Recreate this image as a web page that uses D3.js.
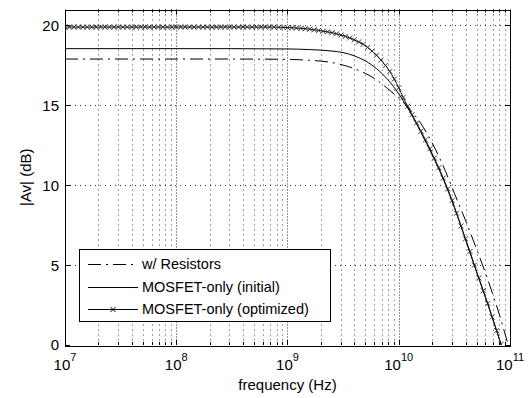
<!DOCTYPE html>
<html>
<head>
<meta charset="utf-8">
<script src="https://cdn.jsdelivr.net/npm/d3@7"></script>
<style>
  html, body { margin: 0; padding: 0; background: #fff; }
  svg { display: block; }
  text { font-family: "Liberation Sans", Arial, Helvetica, sans-serif; fill: #000; }
</style>
</head>
<body>
<svg id="chart" width="530" height="398"></svg>
<script>
// Frequency sweep (log10 of Hz) and |Av| in dB for the three amplifier variants.
const optExp = [
  7.00,7.04,7.08,7.12,7.16,7.20,7.24,7.28,7.32,7.36,
  7.40,7.44,7.48,7.52,7.56,7.60,7.64,7.68,7.72,7.76,
  7.80,7.84,7.88,7.92,7.96,8.00,8.04,8.08,8.12,8.16,
  8.20,8.24,8.28,8.32,8.36,8.40,8.44,8.48,8.52,8.56,
  8.60,8.64,8.68,8.72,8.76,8.80,8.84,8.88,8.92,8.96,
  9.00,9.04,9.08,9.12,9.16,9.20,9.24,9.28,9.32,9.36,
  9.40,9.44,9.48,9.52,9.56,9.60,9.64,9.68,9.72,9.76,
  9.80,9.84,9.88,9.92,9.96,10.00,10.04,10.08,10.12,10.16,
  10.20,10.24,10.28,10.32,10.36,10.40,10.44,10.48,10.52,10.56,
  10.60,10.64,10.68,10.72,10.76,10.80,10.84,10.88,10.92,10.96,
  11.00
];
const optDb = [
  19.9,19.9,19.9,19.9,19.9,19.9,19.9,19.9,19.9,19.9,
  19.9,19.9,19.9,19.9,19.9,19.9,19.9,19.9,19.9,19.9,
  19.9,19.9,19.9,19.9,19.9,19.9,19.9,19.9,19.9,19.9,
  19.9,19.9,19.9,19.9,19.9,19.9,19.9,19.9,19.9,19.9,
  19.9,19.9,19.9,19.9,19.9,19.9,19.9,19.9,19.89,19.88,
  19.87,19.86,19.84,19.82,19.80,19.77,19.73,19.69,19.64,19.60,
  19.55,19.48,19.40,19.32,19.22,19.10,18.97,18.82,18.63,18.40,
  18.14,17.84,17.50,17.12,16.65,16.10,15.50,14.95,14.42,13.90,
  13.38,12.84,12.28,11.70,11.10,10.45,9.77,9.05,8.25,7.45,
  6.65,5.85,5.00,4.20,3.40,2.60,1.75,0.90,0.05,-0.80,
  -1.60
];

const initExp = [7.0, 8.0, 8.5, 9.0, 9.2, 9.4, 9.5, 9.6, 9.7, 9.8, 9.9, 10.0, 10.1, 10.2, 10.3, 10.4, 10.5, 10.6, 10.7, 10.8, 10.9, 11.0];
const initDb  = [18.55, 18.55, 18.55, 18.53, 18.49, 18.4, 18.3, 18.1, 17.78, 17.3, 16.62, 15.72, 14.6, 13.3, 11.9, 10.38, 8.6, 6.6, 4.55, 2.55, 0.45, -1.6];

const resExp = [7.0, 8.0, 8.5, 9.0, 9.2, 9.3, 9.4, 9.5, 9.6, 9.7, 9.8, 9.9, 10.0, 10.1, 10.2, 10.3, 10.4, 10.5, 10.6, 10.7, 10.8, 10.9, 11.0];
const resDb  = [17.9, 17.9, 17.9, 17.88, 17.82, 17.77, 17.68, 17.52, 17.3, 17.0, 16.6, 16.05, 15.45, 14.75, 13.85, 12.65, 11.2, 9.5, 7.8, 6.0, 4.1, 2.0, -0.4];

const seriesNames = ["w/ Resistors", "MOSFET-only (initial)", "MOSFET-only (optimized)"];
const xMajorExp = [7, 8, 9, 10, 11];
const yTicks = [0, 5, 10, 15, 20];

const svg = d3.select("#chart");
const L = 65, R = 510, T = 9.5, B = 345;

const x = d3.scaleLog().domain([1e7, 1e11]).range([L, R]);
const y = d3.scaleLinear().domain([0, 21]).range([B, T]);

const crisp = v => Math.round(v) + 0.5;

// clip region for curves
svg.append("defs").append("clipPath").attr("id", "plotClip")
  .append("rect").attr("x", L).attr("y", T).attr("width", R - L).attr("height", B - T);

// minor decade positions
const minorF = [];
for (let e = 7; e < 11; e++) for (let m = 2; m <= 9; m++) minorF.push(m * Math.pow(10, e));
const majorF = xMajorExp.map(e => Math.pow(10, e));

const grid = svg.append("g").attr("stroke", "#000").attr("stroke-width", 1).attr("fill", "none");
grid.selectAll(".vminor").data(minorF).join("line")
  .attr("x1", d => crisp(x(d))).attr("x2", d => crisp(x(d)))
  .attr("y1", T).attr("y2", B)
  .attr("stroke-dasharray", "1,4").attr("stroke-opacity", 0.75);
grid.selectAll(".vmajor").data(majorF.slice(1, -1)).join("line")
  .attr("x1", d => crisp(x(d))).attr("x2", d => crisp(x(d)))
  .attr("y1", T).attr("y2", B)
  .attr("stroke-dasharray", "1,2").attr("stroke-opacity", 0.85);
grid.selectAll(".hgrid").data(yTicks.slice(1)).join("line")
  .attr("x1", L).attr("x2", R)
  .attr("y1", d => crisp(y(d))).attr("y2", d => crisp(y(d)))
  .attr("stroke-dasharray", "1,4").attr("stroke-opacity", 0.8);

// curves
const line = d3.line()
  .x(d => x(Math.pow(10, d[0])))
  .y(d => y(d[1]))
  .curve(d3.curveMonotoneX);

const plot = svg.append("g").attr("clip-path", "url(#plotClip)");
const resData = resExp.map((e, i) => [e, resDb[i]]);
const initData = initExp.map((e, i) => [e, initDb[i]]);
const optData = optExp.map((e, i) => [e, optDb[i]]);

plot.append("path").datum(resData).attr("d", line)
  .attr("fill", "none").attr("stroke", "#000").attr("stroke-width", 1)
  .attr("stroke-dasharray", "13,5,2,5");
plot.append("path").datum(initData).attr("d", line)
  .attr("fill", "none").attr("stroke", "#000").attr("stroke-width", 1);
plot.append("path").datum(optData).attr("d", line)
  .attr("fill", "none").attr("stroke", "#111").attr("stroke-width", 1);

const xMark = (cx, cy, s) => `M${cx - s},${cy - s}L${cx + s},${cy + s}M${cx - s},${cy + s}L${cx + s},${cy - s}`;
plot.append("g").selectAll("path").data(optData).join("path")
  .attr("d", d => xMark(x(Math.pow(10, d[0])), y(d[1]), 2.5))
  .attr("fill", "none").attr("stroke", "#222").attr("stroke-width", 0.9);

// axes box and inward ticks
const ax = svg.append("g").attr("stroke", "#000").attr("stroke-width", 1).attr("fill", "none");
ax.append("rect").attr("x", crisp(L)).attr("y", crisp(T)).attr("width", Math.round(R - L)).attr("height", Math.round(B - T));
majorF.forEach(f => {
  const px = crisp(x(f));
  ax.append("line").attr("x1", px).attr("x2", px).attr("y1", B).attr("y2", B - 5);
  ax.append("line").attr("x1", px).attr("x2", px).attr("y1", T).attr("y2", T + 5);
});
minorF.forEach(f => {
  const px = crisp(x(f));
  ax.append("line").attr("x1", px).attr("x2", px).attr("y1", B).attr("y2", B - 3);
  ax.append("line").attr("x1", px).attr("x2", px).attr("y1", T).attr("y2", T + 3);
});
yTicks.forEach(v => {
  const py = crisp(y(v));
  ax.append("line").attr("x1", L).attr("x2", L + 5).attr("y1", py).attr("y2", py);
  ax.append("line").attr("x1", R).attr("x2", R - 5).attr("y1", py).attr("y2", py);
});

// tick labels
svg.append("g").selectAll("text").data(yTicks).join("text")
  .attr("x", L - 6).attr("y", d => y(d)).attr("dy", "0.36em")
  .attr("text-anchor", "end").attr("font-size", 15)
  .text(d => d);

const xl = svg.append("g").selectAll("text").data(xMajorExp).join("text")
  .attr("x", d => x(Math.pow(10, d))).attr("y", 370)
  .attr("text-anchor", "middle").attr("font-size", 15);
xl.append("tspan").text("10");
xl.append("tspan").attr("dy", -9).attr("font-size", 11).text(d => d);

// axis titles
svg.append("text").attr("x", (L + R) / 2).attr("y", 390)
  .attr("text-anchor", "middle").attr("font-size", 15).text("frequency (Hz)");
svg.append("text").attr("transform", `translate(31,${(T + B) / 2}) rotate(-90)`)
  .attr("text-anchor", "middle").attr("font-size", 15).text("|Av| (dB)");

// legend
const lg = svg.append("g");
lg.append("rect").attr("x", 79.5).attr("y", 249.5).attr("width", 251).attr("height", 72)
  .attr("fill", "#fff").attr("stroke", "#000").attr("stroke-width", 1);
const rows = [264, 287, 309];
const dashes = ["13,5,2,5", null, null];
rows.forEach((ry, i) => {
  const ln = lg.append("line").attr("x1", 88).attr("x2", 138).attr("y1", ry + 0.5).attr("y2", ry + 0.5)
    .attr("stroke", "#000").attr("stroke-width", 1);
  if (dashes[i]) ln.attr("stroke-dasharray", dashes[i]);
  lg.append("text").attr("x", 142).attr("y", ry).attr("dy", "0.36em")
    .attr("font-size", 14.5).text(seriesNames[i]);
});
lg.append("path").attr("d", xMark(113, rows[2] + 0.5, 2.5))
  .attr("fill", "none").attr("stroke", "#000").attr("stroke-width", 1);
</script>
</body>
</html>
